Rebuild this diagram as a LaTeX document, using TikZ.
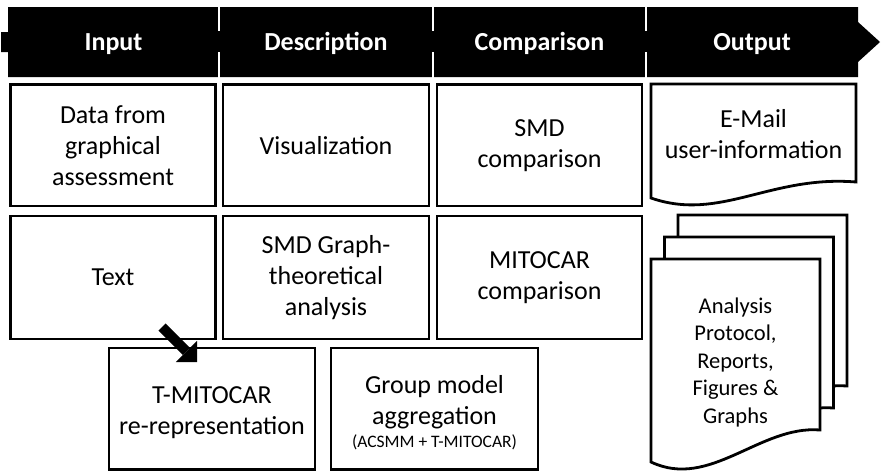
\documentclass[tikz,border=0pt]{standalone}
\usepackage{fontspec}
\setmainfont{Carlito}
\usetikzlibrary{arrows.meta}
\begin{document}
\begin{tikzpicture}[x=1pt,y=-1pt,
  stage/.style={draw=black, line width=2.8pt, fill=white, align=center,
    inner sep=0pt, font=\fontsize{26}{31}\selectfont},
  hdr/.style={text=white, anchor=base, font=\bfseries\fontsize{26}{31}\selectfont},
  sep/.style={draw=white, line width=2.6pt},
  doc/.style={draw=black, line width=2.8pt, fill=white, line join=miter},
  doctext/.style={align=center, inner sep=0pt, font=\fontsize{26}{31}\selectfont}
]
\useasboundingbox (0,0) rectangle (881,472);

% process bar with the four phase headings
\fill[black] (8,7) -- (858,7) -- (858,22) -- (880,42) -- (858,62) -- (858,77)
  -- (8,77) -- (8,52) -- (1,52) -- (1,32) -- (8,32) -- cycle;
\foreach \x in {219,433,646} {
  \draw[sep] (\x,5) -- (\x,31);
  \draw[sep] (\x,52) -- (\x,79);
}
\node[hdr] (hInput) at (113.5,50) {Input};
\node[hdr] (hDesc)  at (326,50)   {Description};
\node[hdr] (hComp)  at (539.5,50) {Comparison};
\node[hdr] (hOut)   at (752,50)   {Output};

% first row
\node[stage, minimum width=205pt, minimum height=121.5pt] (data) at (113,145.25)
  {Data from\\graphical\\assessment};
\node[stage, minimum width=206pt, minimum height=121.5pt] (vis) at (326,145.25)
  {Visualization};
\node[stage, minimum width=205pt, minimum height=121.5pt] (smdcmp) at (539.5,145.25)
  {SMD\\comparison};

% second row
\node[stage, minimum width=205pt, minimum height=123pt] (text) at (113,277.5)
  {Text};
\node[stage, minimum width=206pt, minimum height=123pt] (smdgraph) at (326,277.5)
  {SMD Graph-\\theoretical\\analysis};
\node[stage, minimum width=205pt, minimum height=123pt] (mitocmp) at (539.5,277.5)
  {MITOCAR\\comparison};

% third row (a strut on the first line lowers the text a little)
\node[stage, minimum width=206pt, minimum height=121.5pt] (tmito) at (212,408.75)
  {\rule{0pt}{24pt}T-MITOCAR\\re-representation};
\node[stage, minimum width=207pt, minimum height=121.5pt] (group) at (434.5,408.75)
  {\rule{0pt}{25.5pt}Group model\\aggregation\\[-7.5pt]{\fontsize{17.5}{21}\selectfont (ACSMM + T-MITOCAR)}};

% output documents
\draw[doc] (651,84) -- (856,84) -- (856,182)
  .. controls (770,175) and (720,222) .. (651,198) -- cycle;
\node[doctext] (mail) at (753.5,134) {E-Mail\\user-information};

\foreach \k in {2,1,0}
  \draw[doc, shift={(13.5*\k,-22*\k)}] (651,259) -- (820,259) -- (820,430)
    .. controls (760,425) and (710,490) .. (651,462) -- cycle;
\node[doctext, font=\fontsize{22.5}{27.5}\selectfont] (reports) at (735.5,362)
  {Analysis\\Protocol,\\Reports,\\Figures \&\\Graphs};

% block arrow from the text input to its re-representation
\coordinate (arrTail) at (162,327);
\coordinate (arrTip)  at (197,362);
\draw[line width=10pt, -{Triangle[length=15pt,width=30pt,line width=0pt]}]
  (arrTail) -- (arrTip);
\end{tikzpicture}
\end{document}
